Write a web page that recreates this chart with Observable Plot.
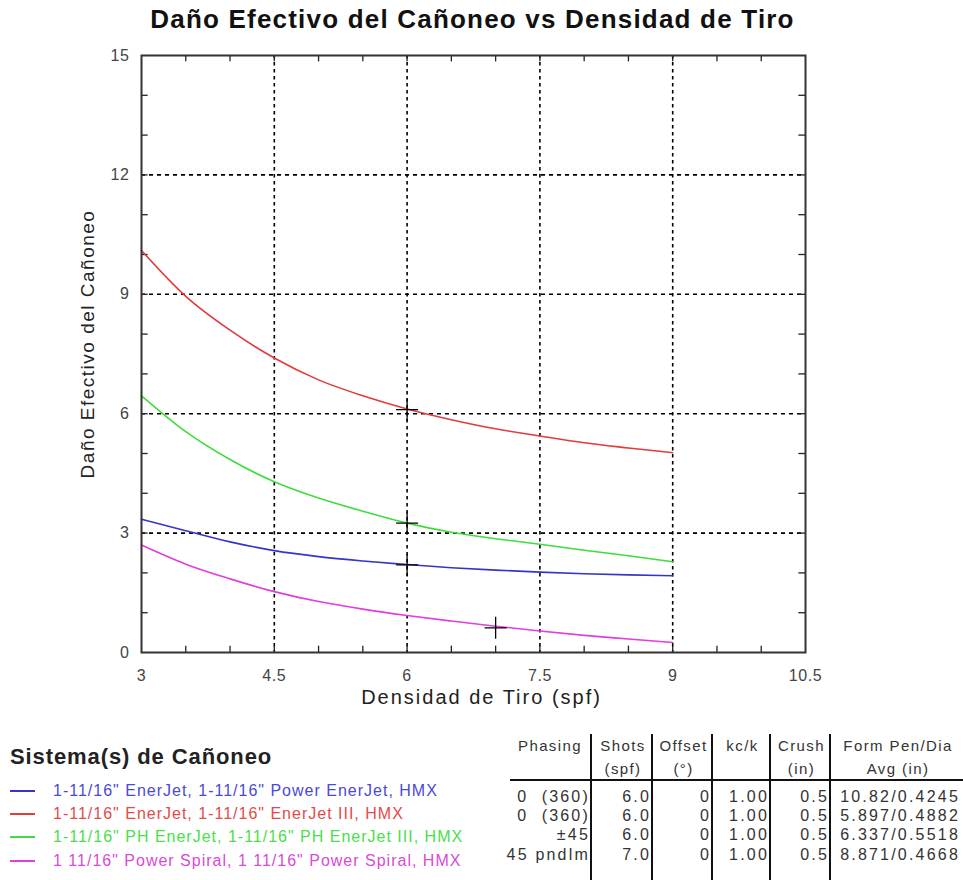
<!DOCTYPE html>
<html><head><meta charset="utf-8">
<script src="https://cdn.jsdelivr.net/npm/d3@7"></script>
<script src="https://cdn.jsdelivr.net/npm/@observablehq/plot@0.6"></script>
<style>
body{margin:0;background:#fff;font-family:"Liberation Sans",Arial,sans-serif;}
#wrap{position:relative;width:963px;height:880px;overflow:hidden;}
#title{position:absolute;left:0;width:945px;top:4px;text-align:center;font-weight:bold;font-size:26px;letter-spacing:1.2px;color:#111;}
#chart{position:absolute;left:0;top:40px;}
#chart svg text{letter-spacing:0.6px;}
#legend{position:absolute;left:10px;top:744px;}
#legend .lt{font-size:22px;letter-spacing:0.9px;color:#222;margin-bottom:9px;font-weight:bold;}
#legend .row{height:23.3px;display:flex;align-items:center;font-size:16px;letter-spacing:1px;white-space:pre;}
#legend .sw{width:25px;height:2px;margin-right:18px;}
#tbl{position:absolute;left:0;top:0;width:963px;height:880px;}
.cell{position:absolute;font-size:16px;letter-spacing:2.2px;color:#333;white-space:pre;}
.hcell{position:absolute;font-size:15px;letter-spacing:1.4px;color:#333;white-space:pre;}
.vl{position:absolute;width:2px;background:#111;}
.hl{position:absolute;height:2px;background:#111;}
</style></head>
<body><div id="wrap">
<div id="title">Daño Efectivo del Cañoneo vs Densidad de Tiro</div>
<div id="chart"></div>
<div id="tbl"></div>
<div id="legend"></div>
</div>
<script>
// ---- data ----
const xValues = [3, 3.5, 4, 4.5, 5, 5.5, 6, 6.5, 7, 7.5, 8, 8.5, 9];
const blueSeries    = [3.35, 3.06, 2.78, 2.56, 2.41, 2.30, 2.21, 2.13, 2.07, 2.02, 1.98, 1.95, 1.93];
const redSeries     = [10.1, 8.95, 8.10, 7.40, 6.85, 6.45, 6.12, 5.85, 5.62, 5.44, 5.27, 5.14, 5.02];
const greenSeries   = [6.45, 5.55, 4.85, 4.29, 3.88, 3.55, 3.25, 3.02, 2.86, 2.72, 2.57, 2.43, 2.28];
const magentaSeries = [2.70, 2.22, 1.85, 1.53, 1.28, 1.09, 0.93, 0.79, 0.66, 0.54, 0.43, 0.34, 0.25];
const seriesNames = [
  '1-11/16" EnerJet, 1-11/16" Power EnerJet, HMX',
  '1-11/16" EnerJet, 1-11/16" EnerJet III, HMX',
  '1-11/16" PH EnerJet, 1-11/16" PH EnerJet III, HMX',
  '1 11/16" Power Spiral, 1 11/16" Power Spiral, HMX'
];
const seriesColors = ["#3535c8", "#e03c3c", "#3fdc3f", "#e03ee0"];
const legendTextColors = ["#4a4ad6", "#e44a4a", "#4ade4a", "#d84ad8"];
const markerX = [6, 6, 6, 7];
const markerY = [2.2, 6.1, 3.25, 0.62];
const xTicks = [3, 4.5, 6, 7.5, 9, 10.5];
const yTicks = [0, 3, 6, 9, 12, 15];
const xGridVals = [4.5, 6, 7.5, 9];
const yGridVals = [3, 6, 9, 12];
const xMinor = [3.5, 4, 4.5, 5, 5.5, 6, 6.5, 7, 7.5, 8, 8.5, 9, 9.5, 10];
const yMinor = [1, 2, 3, 4, 5, 6, 7, 8, 9, 10, 11, 12, 13, 14];
const xLabel = "Densidad de Tiro (spf)";
const yLabel = "Daño Efectivo del Cañoneo";
const tableHeader1 = ["Phasing", "Shots", "Offset", "kc/k", "Crush", "Form Pen/Dia"];
const tableHeader2 = ["", "(spf)", "(°)", "", "(in)", "Avg (in)"];
const colPhasing = ["0  (360)", "0  (360)", "±45", "45 pndlm"];
const colShots = ["6.0", "6.0", "6.0", "7.0"];
const colOffset = ["0", "0", "0", "0"];
const colKck = ["1.00", "1.00", "1.00", "1.00"];
const colCrush = ["0.5", "0.5", "0.5", "0.5"];
const colForm = ["10.82/0.4245", "5.897/0.4882", "6.337/0.5518", "8.871/0.4668"];

// ---- build ----
const allSeries = [blueSeries, redSeries, greenSeries, magentaSeries];
const lineData = allSeries.flatMap((s, i) => s.map((v, j) => ({x: xValues[j], y: v, k: i})));
const markers = markerX.map((x, i) => ({x, y: markerY[i]}));
const plusSymbol = {draw(ctx, size){ const r = Math.sqrt(size/Math.PI); ctx.moveTo(-r,0); ctx.lineTo(r,0); ctx.moveTo(0,-r); ctx.lineTo(0,r);} };

const chart = Plot.plot({
  width: 963, height: 680,
  marginTop: 15, marginLeft: 141, marginRight: 158, marginBottom: 68,
  style: {fontFamily: "'Liberation Sans', Arial, sans-serif", fontSize: "16px", color: "#444", background: "#fff"},
  x: {domain: [3, 10.5]},
  y: {domain: [0, 15]},
  marks: [
    Plot.gridX(xGridVals, {stroke: "#000", strokeOpacity: 1, strokeWidth: 1.6, strokeDasharray: "3.5,3.5"}),
    Plot.gridY(yGridVals, {stroke: "#000", strokeOpacity: 1, strokeWidth: 1.6, strokeDasharray: "4,4"}),
    Plot.ruleX(xMinor, {x: d => d, y1: 0, y2: 0.16, stroke: "#222", strokeWidth: 1.3}),
    Plot.ruleX(xMinor, {x: d => d, y1: 15, y2: 14.84, stroke: "#222", strokeWidth: 1.3}),
    Plot.ruleY(yMinor, {y: d => d, x1: 3, x2: 3.075, stroke: "#222", strokeWidth: 1.3}),
    Plot.ruleY(yMinor, {y: d => d, x1: 10.5, x2: 10.425, stroke: "#222", strokeWidth: 1.3}),
    Plot.line(lineData, {x: "x", y: "y", z: "k", stroke: d => seriesColors[d.k], strokeWidth: 1.6, curve: "monotone-x"}),
    Plot.dot(markers, {x: "x", y: "y", symbol: plusSymbol, r: 11, stroke: "#000", strokeWidth: 1.3, fill: "none"}),
    Plot.frame({stroke: "#333", strokeWidth: 2}),
    Plot.axisX({ticks: xTicks, tickSize: 0, tickPadding: 17, tickFormat: d => String(d), label: null}),
    Plot.axisY({ticks: yTicks, tickSize: 0, tickPadding: 12, tickFormat: d => String(d), label: null}),
    Plot.text([xLabel], {frameAnchor: "bottom", dx: 8, dy: 51, fontSize: 20, fill: "#222", textAnchor: "middle"}),
    Plot.text([yLabel], {frameAnchor: "left", dx: -54, dy: -10, rotate: -90, fontSize: 19, fill: "#222", textAnchor: "middle"})
  ]
});
d3.select(chart).selectAll("text").filter(function(){ return this.textContent === xLabel; }).style("letter-spacing", "2px");
d3.select(chart).selectAll("text").filter(function(){ return this.textContent === yLabel; }).style("letter-spacing", "1.5px");
document.getElementById("chart").appendChild(chart);

// legend
const leg = document.getElementById("legend");
const lt = document.createElement("div"); lt.className = "lt"; lt.textContent = "Sistema(s) de Cañoneo"; leg.appendChild(lt);
seriesNames.forEach((n, i) => {
  const r = document.createElement("div"); r.className = "row";
  const sw = document.createElement("span"); sw.className = "sw"; sw.style.background = seriesColors[i];
  const t = document.createElement("span"); t.textContent = n; t.style.color = legendTextColors[i];
  r.appendChild(sw); r.appendChild(t); leg.appendChild(r);
});

// table
const tbl = document.getElementById("tbl");
const colEdges = [496, 591, 652, 712, 770, 830, 963];
const rowsY = [797, 816, 835, 855];
const columns = [colPhasing, colShots, colOffset, colKck, colCrush, colForm];
function cell(txt, x0, x1, yc, align, cls){
  const d = document.createElement("div"); d.className = cls; d.textContent = txt;
  d.style.left = x0 + "px"; d.style.width = (x1 - x0) + "px"; d.style.top = (yc - 9) + "px";
  d.style.textAlign = align; d.style.boxSizing = "border-box";
  d.style.paddingRight = align === "right" ? "1px" : "0";
  d.style.paddingLeft = align === "center" ? "1px" : "0";
  d.style.lineHeight = "18px";
  tbl.appendChild(d);
}
tableHeader1.forEach((h, i) => cell(h, colEdges[i] + (i===0?12:2), colEdges[i+1], 746, "center", "hcell"));
tableHeader2.forEach((h, i) => cell(h, colEdges[i] + 2, colEdges[i+1], 769, "center", "hcell"));
columns.forEach((col, i) => col.forEach((v, j) => {
  if (i === 5) cell(v, colEdges[i] + 2, colEdges[i+1] - 2, rowsY[j], "right", "cell");
  else cell(v, colEdges[i], colEdges[i+1], rowsY[j], "right", "cell");
}));
[591, 652, 712, 770, 830].forEach(x => {
  const v = document.createElement("div"); v.className = "vl"; v.style.left = (x - 1) + "px"; v.style.top = "734px"; v.style.height = "146px"; tbl.appendChild(v);
});
const h = document.createElement("div"); h.className = "hl"; h.style.left = "510px"; h.style.width = "453px"; h.style.top = "779px"; tbl.appendChild(h);
</script>
</body></html>
